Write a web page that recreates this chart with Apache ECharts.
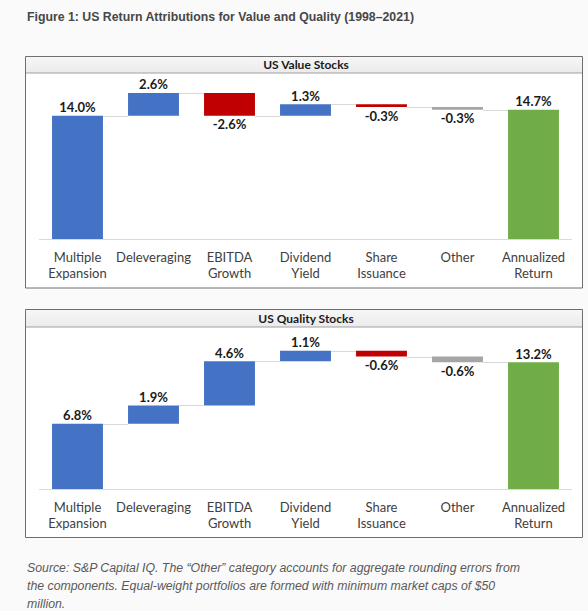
<!DOCTYPE html>
<html><head><meta charset="utf-8">
<script src="https://cdn.jsdelivr.net/npm/echarts@6/dist/echarts.min.js"></script>
<style>html,body{margin:0;padding:0;background:#fafafa;} #c{width:588px;height:611px;}</style>
</head><body><div id="c"></div>
<script>
const categories = ['Multiple\nExpansion', 'Deleveraging', 'EBITDA\nGrowth', 'Dividend\nYield', 'Share\nIssuance', 'Other', 'Annualized\nReturn'];
const valueChanges = [14.0, 2.6, -2.6, 1.3, -0.3, -0.3];
const valueTotal = 14.7;
const qualityChanges = [6.8, 1.9, 4.6, 1.1, -0.6, -0.6];
const qualityTotal = 13.2;
const panelTitles = ['US Value Stocks', 'US Quality Stocks'];
const figureTitle = 'Figure 1: US Return Attributions for Value and Quality (1998\u20132021)';
const footnote = 'Source: S&P Capital IQ. The \u201cOther\u201d category accounts for aggregate rounding errors from\nthe components. Equal-weight portfolios are formed with minimum market caps of $50\nmillion.';

const COLORS = {pos: '#4472C4', neg: '#C00000', other: '#A5A5A5', total: '#70AD47'};
const FONT = 'Lato';

function build(changes, total) {
  const base = [], vis = [], levels = [];
  let cum = 0;
  changes.forEach((d, i) => {
    const next = cum + d;
    base.push(Math.min(cum, next));
    let kind = d >= 0 ? 'pos' : (categories[i] === 'Other' ? 'other' : 'neg');
    vis.push({
      value: Math.abs(d),
      itemStyle: {color: COLORS[kind]},
      label: {position: d >= 0 ? 'top' : 'bottom', formatter: d.toFixed(1) + '%'}
    });
    cum = next;
    levels.push([i, Math.round(cum * 100) / 100]);
  });
  base.push(0);
  vis.push({value: total, itemStyle: {color: COLORS.total}, label: {position: 'top', formatter: total.toFixed(1) + '%'}});
  return {base, vis, levels};
}

const panels = [build(valueChanges, valueTotal), build(qualityChanges, qualityTotal)];
const axisMax = [18, 16];
const gridPos = [{top: 80.6, height: 158.4}, {top: 335.4, height: 153.6}];

const series = [];
panels.forEach((p, k) => {
  series.push({
    type: 'bar', xAxisIndex: k, yAxisIndex: k, stack: 's' + k, data: p.base,
    itemStyle: {color: 'rgba(0,0,0,0)'}, silent: true, barWidth: '67%'
  });
  series.push({
    type: 'bar', xAxisIndex: k, yAxisIndex: k, stack: 's' + k, data: p.vis, barWidth: '67%',
    label: {show: true, distance: 2, fontFamily: FONT, fontSize: 13, fontWeight: 'bold', color: '#1a1a1a'}
  });
  series.push({
    type: 'custom', xAxisIndex: k, yAxisIndex: k, data: p.levels, silent: true, z: 1,
    encode: {x: 0, y: 1},
    renderItem: (params, api) => {
      const pt = api.coord([api.value(0), api.value(1)]);
      const band = api.size([1, 0])[0];
      const half = band * 0.335;
      const y = Math.round(pt[1]) + 0.5;
      return {type: 'line', shape: {x1: pt[0] + half, y1: y, x2: pt[0] + band - half, y2: y},
        style: {stroke: '#d9d9d9', lineWidth: 1}};
    }
  });
});

const frames = [{y: 56.5, h: 231.5, hh: 16.5}, {y: 309.5, h: 228, hh: 17.5}];
const graphic = [];
frames.forEach((f, k) => {
  graphic.push({type: 'rect', z: -10, shape: {x: 25.5, y: f.y, width: 557, height: f.h},
    style: {fill: '#ffffff', stroke: '#6e6e6e', lineWidth: 1}});
  graphic.push({type: 'rect', z: -9, shape: {x: 26, y: f.y + 0.5, width: 556, height: f.hh - 0.5},
    style: {fill: new echarts.graphic.LinearGradient(0, 0, 0, 1, [{offset: 0, color: '#f6f6f6'}, {offset: 1, color: '#ebebeb'}])}});
  graphic.push({type: 'line', z: -8, shape: {x1: 26, y1: f.y + f.hh, x2: 582, y2: f.y + f.hh},
    style: {stroke: '#a0a0a0', lineWidth: 1}});
  graphic.push({type: 'text', z: 10, x: 306, y: f.y + f.hh / 2,
    style: {text: panelTitles[k], fill: '#1a1a1a', font: 'bold 12px ' + FONT, textAlign: 'center', textVerticalAlign: 'middle'}});
});

const option = {
  backgroundColor: '#fafafa',
  animation: false,
  title: [
    {text: figureTitle, left: 22, top: 6, textStyle: {fontFamily: 'Liberation Sans', fontSize: 12.3, fontWeight: 'bold', color: '#474747'}},
    {text: footnote, left: 22, top: 554, textStyle: {fontFamily: 'Liberation Sans', fontSize: 12.3, fontStyle: 'italic', fontWeight: 'normal', color: '#595959', lineHeight: 18}}
  ],
  grid: gridPos.map(g => ({left: 39.5, right: 16.5, top: g.top, height: g.height})),
  xAxis: [0, 1].map(k => ({
    type: 'category', gridIndex: k, data: categories,
    axisLine: {lineStyle: {color: '#d9d9d9', width: 1}},
    axisTick: {show: false},
    axisLabel: {interval: 0, color: '#404040', fontFamily: FONT, fontSize: 13, lineHeight: 16, margin: 10}
  })),
  yAxis: [0, 1].map(k => ({type: 'value', gridIndex: k, min: 0, max: axisMax[k], show: false, splitLine: {show: false}})),
  graphic: graphic,
  series: series
};

const chart = echarts.init(document.getElementById('c'), null, {renderer: 'svg'});
chart.setOption(option);
</script>
</body></html>
